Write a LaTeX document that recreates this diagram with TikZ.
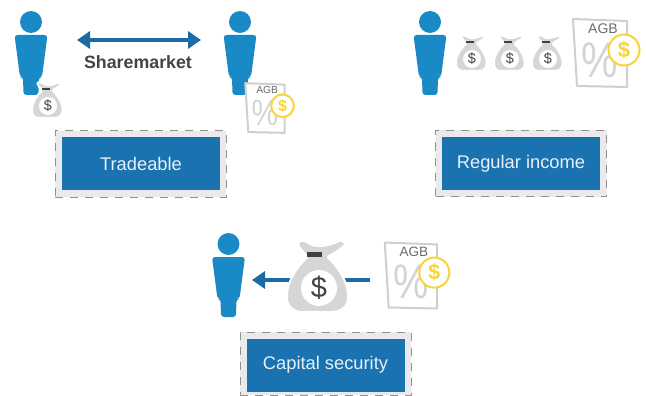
\documentclass[tikz,border=0pt]{standalone}
\usepackage{fontspec}
\setmainfont{Liberation Sans}
\usetikzlibrary{arrows.meta}
\definecolor{personblue}{HTML}{1A8AC6}
\definecolor{boxblue}{HTML}{1A72B0}
\definecolor{arrowblue}{HTML}{1B6BA6}
\definecolor{baggray}{HTML}{D6D6D6}
\definecolor{docgray}{HTML}{CFCFCF}
\definecolor{pctgray}{HTML}{D4D4D4}
\definecolor{coingold}{HTML}{F8D43C}
\definecolor{panel}{HTML}{EAEAEC}
\definecolor{dashgray}{HTML}{909090}
\definecolor{txtgray}{HTML}{6A6A6A}
\definecolor{darktxt}{HTML}{444444}
\tikzset{
  x=1pt,y=-1pt,
  labelbox/.style={fill=boxblue,text=white!90!boxblue,minimum width=158pt,minimum height=53pt,inner sep=0pt,font=\fontsize{18.3}{20}\selectfont},
  panelbox/.style={fill=panel,draw=dashgray,line width=1pt,dash pattern=on 8pt off 7pt,minimum width=171pt,minimum height=66pt,inner sep=0pt},
  flow/.style={draw=arrowblue,line width=3.6pt,>={Triangle[length=13pt,width=17pt]}},
  pics/person/.style={code={
    \fill[personblue] (0,0) circle[radius=11pt];
    \fill[personblue,rounded corners=3pt] (-16.5,13) -- (16.5,13) -- (11,55) -- (8,55) -- (7.5,73) -- (-7.5,73) -- (-8,55) -- (-11,55) -- cycle;
  }},
  pics/bag/.style={code={
    \fill[baggray,draw=white,line width=2pt,rounded corners=1.5pt]
      (-9,-19) -- (-18,-29) .. controls (-20,-37) and (-12,-36) .. (-7,-32)
      .. controls (2,-28) and (14,-31) .. (24,-36) -- (29,-32) .. controls (24,-27) and (18,-23) .. (10,-19)
      .. controls (20,-11) and (31,6) .. (31,20) .. controls (31,31) and (24,36) .. (12,36)
      -- (-13,36) .. controls (-24,36) and (-30,30) .. (-30,20) .. controls (-30,6) and (-19,-11) .. (-9,-19) -- cycle;
    \fill[black!75] (-10,-24) rectangle (5,-19);
    \fill[white] (2,12) circle[radius=18pt];
    \node[transform shape,text=darktxt,inner sep=0pt,font=\fontsize{29}{30}\selectfont] at (2,12) {\$};
  }},
  pics/agbdoc/.style={code={
    \draw[docgray,fill=white,line width=2pt,line join=round] (-27,-34) -- (27,-32) -- (27,34) -- (-23,33) -- cycle;
    \node[transform shape,text=txtgray,inner sep=0pt,font=\fontsize{14}{15}\selectfont] at (3,-24) {AGB};
    \node[transform shape,text=pctgray,inner sep=0pt,xscale=.82,font=\fontsize{50}{52}\selectfont] at (0,7) {\%};
    \draw[coingold,fill=white,line width=2pt] (24,-3) circle[radius=15.5pt];
    \node[transform shape,text=coingold,inner sep=0pt,font=\bfseries\fontsize{22}{23}\selectfont] at (24,-3) {\$};
  }}
}
\begin{document}
\begin{tikzpicture}
\useasboundingbox (0,0) rectangle (646,396);
% Tradeable group
\pic at (31,22) {person};
\pic at (240,22) {person};
\coordinate (tradeL) at (77,40);
\coordinate (tradeR) at (201,40);
\draw[flow,<->] (tradeL) -- (tradeR);
\node[text=darktxt,inner sep=0pt,font=\bfseries\fontsize{17.8}{19}\selectfont] (share) at (138,62) {Sharemarket};
\pic[scale=.5] at (47,100) {bag};
\pic[scale=.73] at (265,108) {agbdoc};
\node[panelbox] (panelA) at (140.5,164) {};
\node[labelbox] (tradeable) at (141,163.5) {Tradeable};
% Regular income group
\pic at (430,22) {person};
\pic[scale=.5] at (471,53) {bag};
\pic[scale=.5] at (509,53) {bag};
\pic[scale=.5] at (547,53) {bag};
\pic at (600,53) {agbdoc};
\node[panelbox] (panelB) at (521,163.5) {};
\node[labelbox] (regular) at (521,163.5) {Regular income};
% Capital security group
\pic at (228.5,244) {person};
\coordinate (capR) at (370,280);
\coordinate (capL) at (252,280);
\draw[flow,->] (capR) -- (capL);
\pic at (317,276) {bag};
\pic[scale=.97] at (411,275.5) {agbdoc};
\node[panelbox,minimum height=63pt] (panelC) at (325.5,363.5) {};
\node[labelbox] (capital) at (325.5,365) {Capital security};
\end{tikzpicture}
\end{document}
